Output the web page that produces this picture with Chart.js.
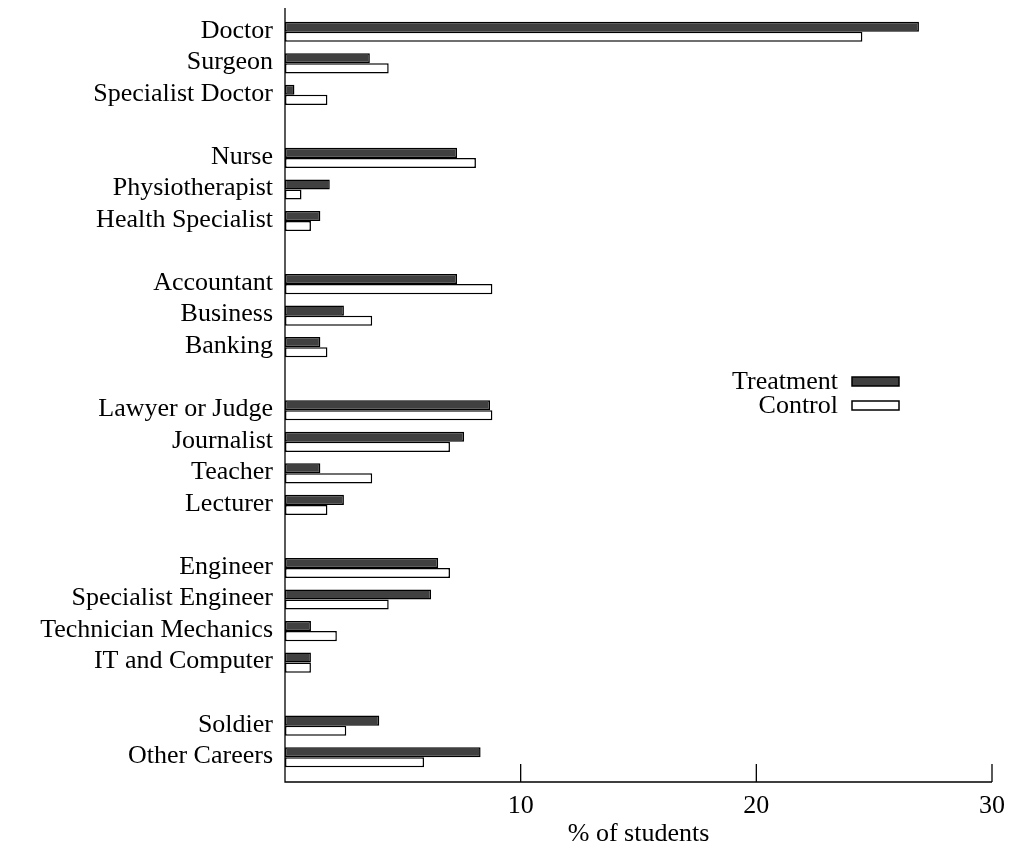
<!DOCTYPE html>
<html>
<head>
<meta charset="utf-8">
<script src="https://cdn.jsdelivr.net/npm/chart.js@4.4.1/dist/chart.umd.min.js"></script>
<style>
  html, body { margin: 0; padding: 0; background: #fff; }
  #wrap { width: 1012px; height: 850px; }
</style>
</head>
<body>
<div id="wrap"><canvas id="myChart"></canvas></div>
<script>
// careers, with empty entries used as gaps between groups
var careers = [
  'Doctor', 'Surgeon', 'Specialist Doctor', '',
  'Nurse', 'Physiotherapist', 'Health Specialist', '',
  'Accountant', 'Business', 'Banking', '',
  'Lawyer or Judge', 'Journalist', 'Teacher', 'Lecturer', '',
  'Engineer', 'Specialist Engineer', 'Technician Mechanics', 'IT and Computer', '',
  'Soldier', 'Other Careers'
];
var treatment = [26.9, 3.6, 0.4, null, 7.3, 1.9, 1.5, null, 7.3, 2.5, 1.5, null,
  8.7, 7.6, 1.5, 2.5, null, 6.5, 6.2, 1.1, 1.1, null, 4.0, 8.3];
var control = [24.5, 4.4, 1.8, null, 8.1, 0.7, 1.1, null, 8.8, 3.7, 1.8, null,
  8.8, 7.0, 3.7, 1.8, null, 7.0, 4.4, 2.2, 1.1, null, 2.6, 5.9];
var xTicks = [10, 20, 30];

var serif = '"Liberation Serif", "DejaVu Serif", serif';

// axes drawn a bit outside the plot area, inward ticks, legend
var extras = {
  id: 'extras',
  afterDraw: function (chart) {
    var c = chart.ctx;
    var xs = chart.scales.x;
    var area = chart.chartArea;
    var axisY = area.bottom + 9;
    c.save();
    c.strokeStyle = '#000';
    c.lineWidth = 1.3;
    c.beginPath();
    c.moveTo(area.left, area.top - 8);
    c.lineTo(area.left, axisY);
    c.lineTo(xs.getPixelForValue(30), axisY);
    c.stroke();
    xTicks.forEach(function (v) {
      var px = xs.getPixelForValue(v);
      c.beginPath();
      c.moveTo(px, axisY);
      c.lineTo(px, axisY - 18);
      c.stroke();
    });

    // legend: text first, box after it
    c.font = '26px ' + serif;
    c.textAlign = 'right';
    c.textBaseline = 'middle';
    c.lineWidth = 1.5;
    chart.data.datasets.forEach(function (ds, i) {
      var y = 382 + i * 24;
      c.fillStyle = '#000';
      c.fillText(ds.label, 838, y);
      c.fillStyle = ds.backgroundColor;
      c.fillRect(852, y - 5, 47, 9);
      c.strokeRect(852, y - 5, 47, 9);
    });
    c.restore();
  }
};

var ctx = document.getElementById('myChart').getContext('2d');
var myChart = new Chart(ctx, {
  type: 'bar',
  data: {
    labels: careers,
    datasets: [
      {
        label: 'Treatment',
        data: treatment,
        backgroundColor: '#404040',
        borderColor: '#000',
        borderWidth: 1.5,
        borderSkipped: false
      },
      {
        label: 'Control',
        data: control,
        backgroundColor: '#ffffff',
        borderColor: '#000',
        borderWidth: 1.5,
        borderSkipped: false
      }
    ]
  },
  options: {
    indexAxis: 'y',
    responsive: true,
    maintainAspectRatio: false,
    animation: false,
    categoryPercentage: 0.64,
    barPercentage: 1.0,
    layout: { padding: { left: 0, right: 20, top: 16, bottom: 0 } },
    plugins: { legend: { display: false }, tooltip: { enabled: false } },
    scales: {
      x: {
        min: 0,
        max: 30,
        grid: { display: false, drawTicks: false },
        border: { display: false },
        ticks: {
          stepSize: 10,
          padding: 18,
          color: '#000',
          font: { family: serif, size: 26 },
          callback: function (v) { return v === 0 ? '' : v; }
        },
        title: {
          display: true,
          text: '% of students',
          color: '#000',
          font: { family: serif, size: 26 },
          padding: { top: 0, bottom: 0 }
        },
        afterFit: function (s) {
          s.height = 77;
          s.paddingLeft = 0;
          s.paddingRight = 0;
        }
      },
      y: {
        grid: { display: false, drawTicks: false },
        border: { display: false },
        ticks: {
          autoSkip: false,
          padding: 12,
          labelOffset: -1,
          color: '#000',
          font: { family: serif, size: 26 }
        },
        afterFit: function (s) {
          s.width = 285;
          s.paddingTop = 0;
          s.paddingBottom = 0;
        }
      }
    }
  },
  plugins: [extras]
});
</script>
</body>
</html>
